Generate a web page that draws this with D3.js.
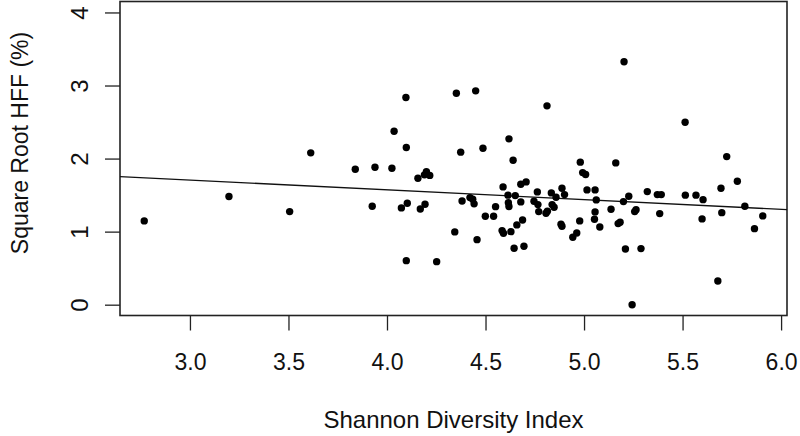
<!DOCTYPE html>
<html lang="en">
<head>
<meta charset="utf-8">
<title>Square Root HFF vs Shannon Diversity Index</title>
<script src="https://cdn.jsdelivr.net/npm/d3@7"></script>
<style>
  body { margin: 0; background: #fff; }
  text { font-family: "Liberation Sans", Arial, sans-serif; fill: #111; }
</style>
</head>
<body>
<svg width="800" height="436"></svg>
<script>
// values
var diversity = [2.768, 3.198, 3.506, 3.613, 3.839, 3.939, 4.025, 4.036, 3.925, 4.073,
  4.096, 4.098, 4.157, 4.19, 4.20, 4.217, 4.103, 4.169, 4.193, 4.098,
  4.252, 4.352, 4.45, 4.374, 4.487, 4.381, 4.421, 4.435, 4.442, 4.344,
  4.457, 4.499, 4.541, 4.551, 5.203, 4.812, 4.619, 4.64, 4.981, 5.161,
  4.993, 5.008, 5.015, 5.056, 5.062, 4.589, 4.706, 4.679, 4.614, 4.651,
  4.616, 4.619, 4.679, 4.584, 4.591, 4.629, 4.659, 4.688, 4.645, 4.695,
  4.763, 4.746, 4.766, 4.77, 4.807, 4.814, 4.834, 4.858, 4.838, 4.848,
  4.888, 4.901, 4.883, 4.888, 4.943, 4.963, 4.978, 5.056, 5.053, 5.08,
  5.137, 5.173, 5.183, 5.2, 5.227, 5.21, 5.289, 5.257, 5.264, 5.244,
  5.321, 5.513, 5.724, 5.778, 5.695, 5.372, 5.392, 5.514, 5.568, 5.604,
  5.384, 5.599, 5.699, 5.816, 5.907, 5.865, 5.679];

var sqrtHff = [1.147, 1.48, 1.274, 2.078, 1.854, 1.882, 1.868, 2.375, 1.348, 1.325,
  2.836, 2.151, 1.731, 1.777, 1.82, 1.77, 1.389, 1.31, 1.375, 0.603,
  0.589, 2.895, 2.927, 2.088, 2.142, 1.42, 1.466, 1.444, 1.38, 0.996,
  0.89, 1.211, 1.211, 1.342, 3.325, 2.722, 2.27, 1.978, 1.951, 1.941,
  1.808, 1.781, 1.571, 1.571, 1.434, 1.612, 1.681, 1.649, 1.499, 1.493,
  1.397, 1.343, 1.407, 1.014, 0.978, 1.0, 1.092, 1.16, 0.772, 0.8,
  1.544, 1.416, 1.37, 1.274, 1.252, 1.28, 1.53, 1.471, 1.37, 1.334,
  1.594, 1.507, 1.101, 1.074, 0.923, 0.982, 1.147, 1.27, 1.17, 1.064,
  1.307, 1.11, 1.129, 1.411, 1.485, 0.763, 0.768, 1.274, 1.301, 0.0,
  1.548, 2.498, 2.027, 1.69, 1.594, 1.507, 1.507, 1.499, 1.499, 1.438,
  1.247, 1.174, 1.26, 1.348, 1.215, 1.041, 0.325];

var xTicks = [3.0, 3.5, 4.0, 4.5, 5.0, 5.5, 6.0];
var yTicks = [0, 1, 2, 3, 4];

// fitted line
var fitIntercept = 2.106,
    fitSlope = -0.1335;

var svg = d3.select("svg"),
    plotLeft = 120, plotRight = 787, plotTop = 1.5, plotBottom = 315.5;

var x = d3.scaleLinear().domain([2.645, 6.03]).range([plotLeft, plotRight]),
    y = d3.scaleLinear().domain([-0.148, 4.15]).range([plotBottom, plotTop]);

// x axis
var gx = svg.append("g")
    .attr("transform", "translate(0," + plotBottom + ")")
    .call(d3.axisBottom(x).tickValues(xTicks).tickFormat(d3.format(".1f")).tickSize(15));
gx.select(".domain").remove();
gx.selectAll("line").attr("stroke", "#222").attr("stroke-width", 1.3);
gx.selectAll("text")
    .attr("y", 54).attr("dy", 0)
    .attr("font-size", "23px")
    .attr("font-family", "Liberation Sans, Arial, sans-serif")
    .attr("fill", "#111");

// y axis, labels turned like R does
var gy = svg.append("g")
    .attr("transform", "translate(" + plotLeft + ",0)")
    .call(d3.axisLeft(y).tickValues(yTicks).tickFormat(d3.format("d")).tickSize(15));
gy.select(".domain").remove();
gy.selectAll("line").attr("stroke", "#222").attr("stroke-width", 1.3);
gy.selectAll("text")
    .attr("x", 0).attr("dy", 0)
    .attr("text-anchor", "middle")
    .attr("transform", "translate(-32,0) rotate(-90)")
    .attr("font-size", "24px")
    .attr("font-family", "Liberation Sans, Arial, sans-serif")
    .attr("fill", "#111");

// box
svg.append("rect")
    .attr("x", plotLeft).attr("y", plotTop)
    .attr("width", plotRight - plotLeft).attr("height", plotBottom - plotTop)
    .attr("fill", "none")
    .attr("stroke", "#222")
    .attr("stroke-width", 1.6);

// regression line
var xd = x.domain();
svg.append("line")
    .attr("x1", x(xd[0])).attr("y1", y(fitIntercept + fitSlope * xd[0]))
    .attr("x2", x(xd[1])).attr("y2", y(fitIntercept + fitSlope * xd[1]))
    .attr("stroke", "#111")
    .attr("stroke-width", 1.3);

// points
svg.append("g").selectAll("circle")
    .data(diversity)
    .enter().append("circle")
    .attr("cx", function(d) { return x(d); })
    .attr("cy", function(d, i) { return y(sqrtHff[i]); })
    .attr("r", 3.7)
    .attr("fill", "#000");

// axis titles
svg.append("text")
    .attr("x", (plotLeft + plotRight) / 2)
    .attr("y", 428)
    .attr("text-anchor", "middle")
    .attr("font-size", "24px")
    .text("Shannon Diversity Index");

svg.append("text")
    .attr("transform", "translate(28,143) rotate(-90)")
    .attr("text-anchor", "middle")
    .attr("font-size", "23px")
    .text("Square Root HFF (%)");
</script>
</body>
</html>
